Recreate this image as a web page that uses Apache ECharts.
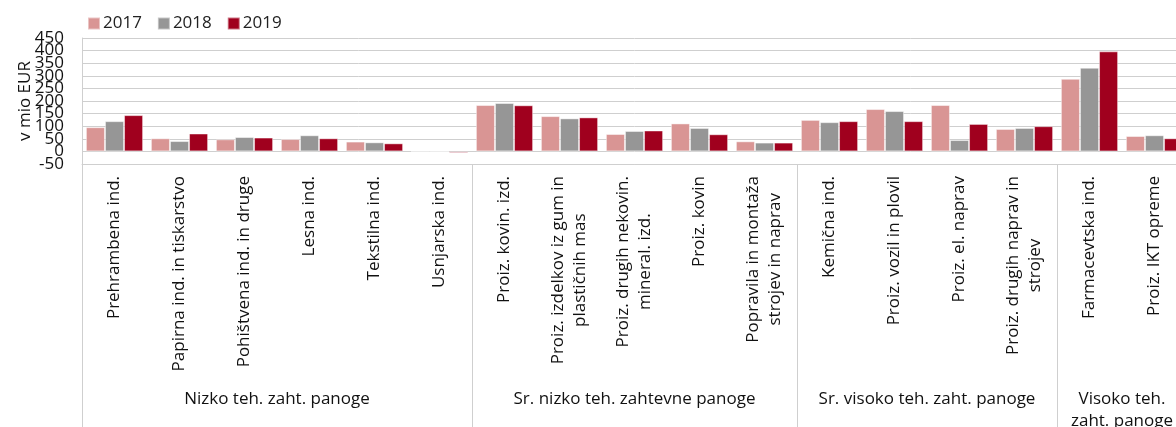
<!DOCTYPE html>
<html>
<head>
<meta charset="utf-8">
<script src="https://cdn.jsdelivr.net/npm/echarts@6/dist/echarts.min.js"></script>
<style>
  html, body { margin: 0; padding: 0; background: #fff; overflow: hidden; }
  #main { width: 1200px; height: 427px; }
</style>
</head>
<body>
<div id="main"></div>
<script>
// panoge (kategorije)
var categories = [
  'Prehrambena ind.',
  'Papirna ind. in tiskarstvo',
  'Pohištvena ind. in druge',
  'Lesna ind.',
  'Tekstilna ind.',
  'Usnjarska ind.',
  'Proiz. kovin. izd.',
  'Proiz. izdelkov iz gum in\nplastičnih mas',
  'Proiz. drugih nekovin.\nmineral. izd.',
  'Proiz. kovin',
  'Popravila in montaža\nstrojev in naprav',
  'Kemična ind.',
  'Proiz. vozil in plovil',
  'Proiz. el. naprav',
  'Proiz. drugih naprav in\nstrojev',
  'Farmacevtska ind.',
  'Proiz. IKT opreme'
];

// skupine panog: ime, indeks prve panoge in sredina skupine
var groupNames = ['Nizko teh. zaht. panoge', 'Sr. nizko teh. zahtevne panoge', 'Sr. visoko teh. zaht. panoge', 'Visoko teh.\nzaht. panoge'];
var groupStarts = [0, 6, 11, 15];
var groupCenters = [2.5, 8, 12.5, 15.5];

var years = ['2017', '2018', '2019'];
var v2017 = [96, 52, 48, 49, 39, 1, 184, 140, 69, 111, 40, 125, 168, 184, 89, 288, 61];
var v2018 = [120, 41, 57, 64, 36, 0.5, 192, 131, 81, 93, 35, 116, 160, 45, 93, 332, 64];
var v2019 = [144, 71, 55, 52, 32, -6, 183, 135, 83, 68, 35, 120, 120, 109, 100, 397, 52];

var yTicks = { min: -50, max: 450, step: 50 };

var colors = ['#D99594', '#969696', '#A0001E'];
var font = '"Open Sans", sans-serif';
var gridColor = '#CFCFCF';

var myChart = echarts.init(document.getElementById('main'));

var series = [v2017, v2018, v2019].map(function (d, i) {
  return {
    name: years[i],
    type: 'bar',
    data: d,
    barGap: '0%',
    barCategoryGap: '12%',
    itemStyle: { color: colors[i], borderColor: 'rgba(255,255,255,0.45)', borderWidth: 1 }
  };
});

// oznake osi y se prekrivajo, zato jih rišeta dve osi (vsaka vsako drugo)
function yAxisLabels(odd) {
  return {
    margin: 18, fontSize: 17, color: '#111', fontFamily: font,
    hideOverlap: false,
    formatter: function (v) {
      var isOdd = Math.abs(v / yTicks.step) % 2 === 1;
      return isOdd === odd ? String(v) : '';
    }
  };
}

var option = {
  animation: false,
  color: colors,
  textStyle: { fontFamily: font },
  legend: {
    data: years,
    left: 82,
    top: 10,
    icon: 'rect',
    itemWidth: 12,
    itemHeight: 12,
    itemGap: 15,
    textStyle: { fontSize: 17, color: '#222', fontFamily: font, padding: [0, 0, 0, -2] }
  },
  grid: { left: 82, right: 13, top: 38, bottom: 263, outerBoundsMode: 'none', containLabel: false },
  xAxis: [
    {
      type: 'category',
      data: categories,
      axisLine: { onZero: false, lineStyle: { color: gridColor, width: 1 } },
      axisTick: {
        show: true,
        length: 270,
        interval: function (index) { return groupStarts.indexOf(index) >= 0; },
        lineStyle: { color: gridColor, width: 1 }
      },
      axisLabel: {
        interval: 0,
        rotate: 90,
        margin: 12,
        color: '#111',
        fontSize: 17,
        fontFamily: font,
        lineHeight: 22,
        hideOverlap: false,
        formatter: function (v) {
          return v.split('\n').map(function (s) { return '{c|' + s + '}'; }).join('\n');
        },
        rich: { c: { align: 'center', fontSize: 17, lineHeight: 22, fontFamily: font, color: '#111' } }
      }
    },
    {
      type: 'value',
      position: 'bottom',
      min: -0.5,
      max: 16.5,
      interval: 0.5,
      axisLine: { show: false, onZero: false },
      axisTick: { show: false },
      splitLine: { show: false },
      axisLabel: {
        margin: 224,
        color: '#111',
        fontSize: 17,
        fontFamily: font,
        lineHeight: 22,
        align: 'center',
        hideOverlap: false,
        showMinLabel: false,
        showMaxLabel: false,
        formatter: function (v) {
          var k = groupCenters.indexOf(v);
          return k >= 0 ? groupNames[k] : '';
        }
      }
    }
  ],
  yAxis: [
    {
      type: 'value',
      position: 'left',
      min: yTicks.min,
      max: yTicks.max,
      interval: yTicks.step,
      name: 'v mio EUR',
      nameLocation: 'middle',
      nameGap: 48,
      nameMoveOverlap: false,
      nameTextStyle: { fontSize: 17, color: '#111', fontFamily: font },
      axisLine: { show: true, onZero: false, lineStyle: { color: gridColor } },
      axisTick: { show: false },
      axisLabel: yAxisLabels(true),
      splitLine: { lineStyle: { color: gridColor, width: 1 } }
    },
    {
      type: 'value',
      position: 'left',
      offset: 0,
      min: yTicks.min,
      max: yTicks.max,
      interval: yTicks.step,
      axisLine: { show: false, onZero: false },
      axisTick: { show: false },
      axisLabel: yAxisLabels(false),
      splitLine: { show: false }
    }
  ],
  series: series
};

myChart.setOption(option);
</script>
</body>
</html>
